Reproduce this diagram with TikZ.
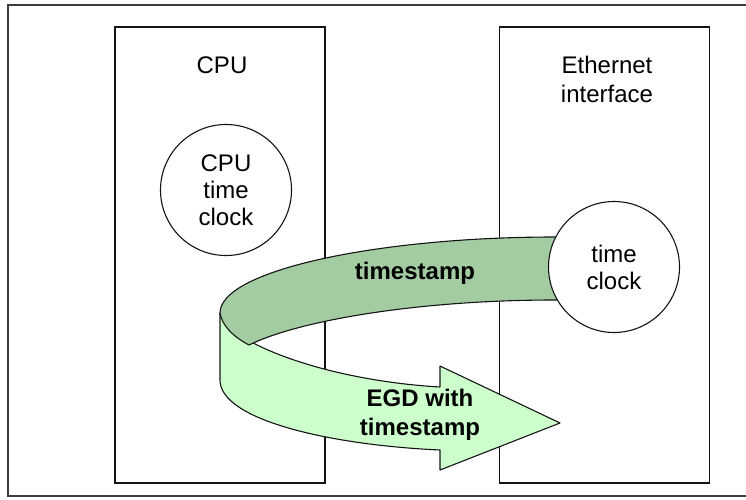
\documentclass[tikz,border=0pt]{standalone}
\usepackage{fontspec}
\setmainfont{Liberation Sans}
\definecolor{boxline}{RGB}{20,20,20}
\definecolor{frameline}{RGB}{60,60,60}
\definecolor{bandtop}{RGB}{163,204,163}
\definecolor{bandlow}{RGB}{204,255,204}

\begin{document}
\begin{tikzpicture}[
  x=1pt, y=-1pt,
  unit/.style={draw=boxline, line width=1.5pt, minimum width=210pt, minimum height=456pt, inner sep=0pt},
  clock/.style={circle, draw=boxline, fill=white, line width=1.1pt, minimum size=131pt, inner sep=0pt,
    align=center, font=\fontsize{24}{27}\selectfont},
  lab/.style={font=\fontsize{24}{29}\selectfont, align=center},
  band/.style={draw=boxline, line width=1.1pt, line join=round},
  bandlab/.style={font=\bfseries\fontsize{24}{29}\selectfont, align=center},
]

  % Page 746x500, y runs downwards
  \useasboundingbox (0,0) rectangle (746,500);

  % --- Outer frame (right side cut off) ---
  \draw[frameline, line width=1.2pt] (8,5) rectangle (760,496);

  % --- Units ---
  \node[unit] (cpubox) at (220,255) {};
  \node[unit] (ethbox) at (604.5,255) {};
  \node[lab] (cpulab) at (222,65.5) {CPU};
  \node[lab] (ethlab) at (607,79) {Ethernet\\interface};

  % --- Ribbon arrow ---
  % lower (light) band with head
  \filldraw[band, fill=bandlow]
    (220,313) -- (220,380)
    .. controls (220,420) and (330,445) .. (440,450)
    -- (440,470) -- (560,423) -- (440,366) -- (440,387)
    .. controls (320,380) and (225,340) .. (220,313) -- cycle;
  % upper (dark) band, runs under the time clock
  \filldraw[band, fill=bandtop]
    (590,237) -- (555,237)
    .. controls (380,237) and (220,270) .. (220,313)
    .. controls (222,325) and (232,336) .. (249,345)
    .. controls (300,320) and (420,300) .. (555,300)
    -- (590,300) -- cycle;
  \node[bandlab] (stamplab) at (415,273) {timestamp};
  \node[bandlab] (egdlab) at (420,415) {EGD with\\timestamp};

  % --- Clocks ---
  \node[clock] (cpuclock) at (226,190) {CPU\\time\\clock};
  \node[clock] (ethclock) at (614,267) {time\\clock};

\end{tikzpicture}
\end{document}
